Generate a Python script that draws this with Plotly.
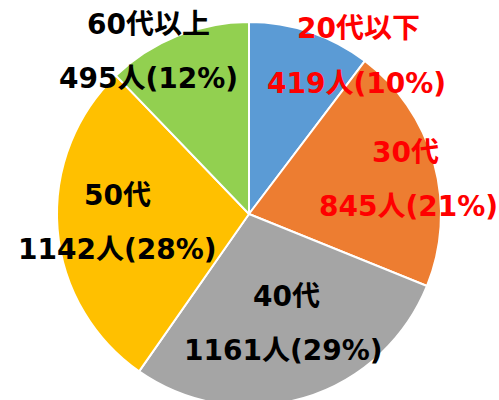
import plotly.graph_objects as go

categories = ["20代以下", "30代", "40代", "50代", "60代以上"]
counts = [419, 845, 1161, 1142, 495]
percents = [10, 21, 29, 28, 12]
colors = ["#5B9BD5", "#ED7D31", "#A5A5A5", "#FFC000", "#92D050"]
label_colors = ["#FF0000", "#FF0000", "#000000", "#000000", "#000000"]

W, H = 499, 406
# label centre positions in pixels (name line, value line)
label_pos = [
    (358, 28, 356, 84),
    (405, 152, 408, 206),
    (286, 296, 283, 350),
    (117, 195, 117, 249),
    (148, 24, 148, 78),
]

fig = go.Figure(go.Pie(
    labels=categories,
    values=counts,
    sort=False,
    direction="clockwise",
    rotation=0,
    marker=dict(colors=colors, line=dict(color="white", width=2)),
    textinfo="none",
    hoverinfo="label+value+percent",
    showlegend=False,
    domain=dict(x=[57 / W, 441 / W], y=[0, 1 - 22 / H]),
))

font_family = "DejaVu Sans, Noto Sans CJK JP, sans-serif"
for cat, n, p, col, (x1, y1, x2, y2) in zip(categories, counts, percents, label_colors, label_pos):
    fig.add_annotation(x=x1 / W, y=1 - y1 / H, xref="paper", yref="paper",
                       text=f"<b>{cat}</b>", showarrow=False,
                       xanchor="center", yanchor="middle",
                       font=dict(family=font_family, size=28, color=col))
    fig.add_annotation(x=x2 / W, y=1 - y2 / H, xref="paper", yref="paper",
                       text=f"<b>{n}人({p}%)</b>", showarrow=False,
                       xanchor="center", yanchor="middle",
                       font=dict(family=font_family, size=28, color=col))

fig.update_layout(
    width=W, height=H,
    margin=dict(l=0, r=0, t=0, b=0),
    paper_bgcolor="white",
    plot_bgcolor="white",
)

fig.write_html("out.html",
               config={"displayModeBar": False},
               post_script="document.documentElement.style.overflow='hidden';document.body.style.overflow='hidden';document.body.style.margin='0';")
